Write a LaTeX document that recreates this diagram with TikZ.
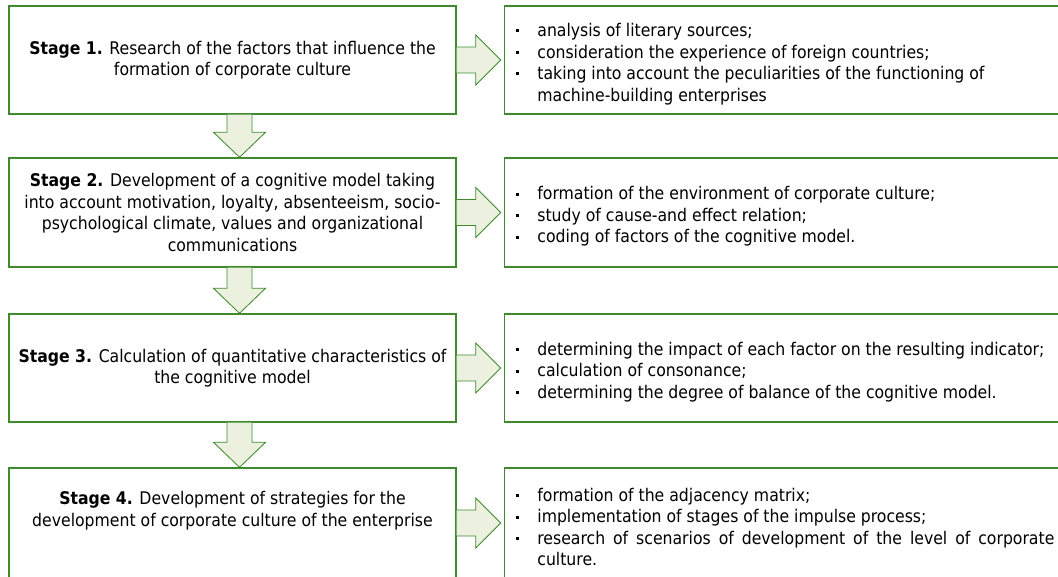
\documentclass[tikz,border=0pt]{standalone}
\usepackage{fontspec}
\setmainfont{DejaVu Sans Condensed}
\usepackage{xcolor}
\usepackage{tikz}
\usetikzlibrary{positioning}

\definecolor{boxgreen}{RGB}{62,138,44}
\definecolor{arrowfill}{RGB}{235,241,222}

% bullet item for the lists on the right
\newcommand{\bitem}{\par\noindent\hangindent=0.6cm\hangafter=1\makebox[0.6cm][l]{\hspace{0.075cm}\rule[0.45ex]{2.1pt}{2.1pt}}}

% block arrow down from one stage to the next
\newcommand{\downblock}[2]{%
  \draw[blockarrow] ([xshift=-0.1375cm]#1.south) -- ([xshift=-0.1375cm,yshift=0.625cm]#2.north) -- ([xshift=-0.475cm,yshift=0.625cm]#2.north) -- ([xshift=0.175cm]#2.north) -- ([xshift=0.825cm,yshift=0.625cm]#2.north) -- ([xshift=0.4875cm,yshift=0.625cm]#2.north) -- ([xshift=0.4875cm]#1.south);}

% block arrow right from a stage to its list
\newcommand{\rightblock}[2]{%
  \draw[blockarrow] ([yshift=0.325cm]#1.east) -- ([xshift=-0.7cm,yshift=0.325cm]#2.west) -- ([xshift=-0.7cm,yshift=0.625cm]#2.west) -- ([xshift=-0.075cm]#2.west) -- ([xshift=-0.7cm,yshift=-0.625cm]#2.west) -- ([xshift=-0.7cm,yshift=-0.325cm]#2.west) -- ([yshift=-0.325cm]#1.east);}

\begin{document}
\begin{tikzpicture}[
    stagebox/.style={draw=boxgreen, line width=1pt, minimum width=11.175cm, inner sep=0pt, align=center, font=\fontsize{12.4}{15.3}\selectfont},
    listbox/.style={draw=boxgreen, line width=1pt, text width=13.525cm, inner xsep=0.225cm, inner ysep=0pt, align=justify, font=\fontsize{12.4}{15.3}\selectfont},
    blockarrow/.style={draw=boxgreen, line width=0.6pt, fill=arrowfill}
  ]
        \clip (0,0) rectangle (26.45,-14.4);

        % stages
        \node[stagebox, minimum height=2.7cm] (s1) at (5.8125,-1.5) {\textbf{Stage 1.} Research of the factors that influence the\\formation of corporate culture};
        \node[stagebox, minimum height=2.725cm] (s2) at (5.8125,-5.3125) {\textbf{Stage 2.} Development of a cognitive model taking\\into account motivation, loyalty, absenteeism, socio-\\psychological climate, values and organizational\\communications};
        \node[stagebox, minimum height=2.7cm] (s3) at (5.8125,-9.2) {\textbf{Stage 3.} Calculation of quantitative characteristics of\\the cognitive model};
        \node[stagebox, minimum height=2.75cm] (s4) at (5.8125,-13.075) {\textbf{Stage 4.} Development of strategies for the\\development of corporate culture of the enterprise\\ \strut};

        % lists of tasks
        \node[listbox, minimum height=2.7cm, right=1.175cm of s1] (r1) {\bitem analysis of literary sources;\bitem consideration the experience of foreign countries;\bitem taking into account the peculiarities of the functioning of\newline machine-building enterprises\par};
        \node[listbox, minimum height=2.725cm, right=1.175cm of s2] (r2) {\bitem formation of the environment of corporate culture;\bitem study of cause-and effect relation;\bitem coding of factors of the cognitive model.\par};
        \node[listbox, minimum height=2.7cm, right=1.175cm of s3] (r3) {\bitem determining the impact of each factor on the resulting indicator;\bitem calculation of consonance;\bitem determining the degree of balance of the cognitive model.\par};
        \node[listbox, minimum height=2.75cm, right=1.175cm of s4] (r4) {\bitem formation of the adjacency matrix;\bitem implementation of stages of the impulse process;\bitem research of scenarios of development of the level of corporate\linebreak culture.\par};

        % arrows
        \downblock{s1}{s2}
        \downblock{s2}{s3}
        \downblock{s3}{s4}
        \rightblock{s1}{r1}
        \rightblock{s2}{r2}
        \rightblock{s3}{r3}
        \rightblock{s4}{r4}
    \end{tikzpicture}
\end{document}
